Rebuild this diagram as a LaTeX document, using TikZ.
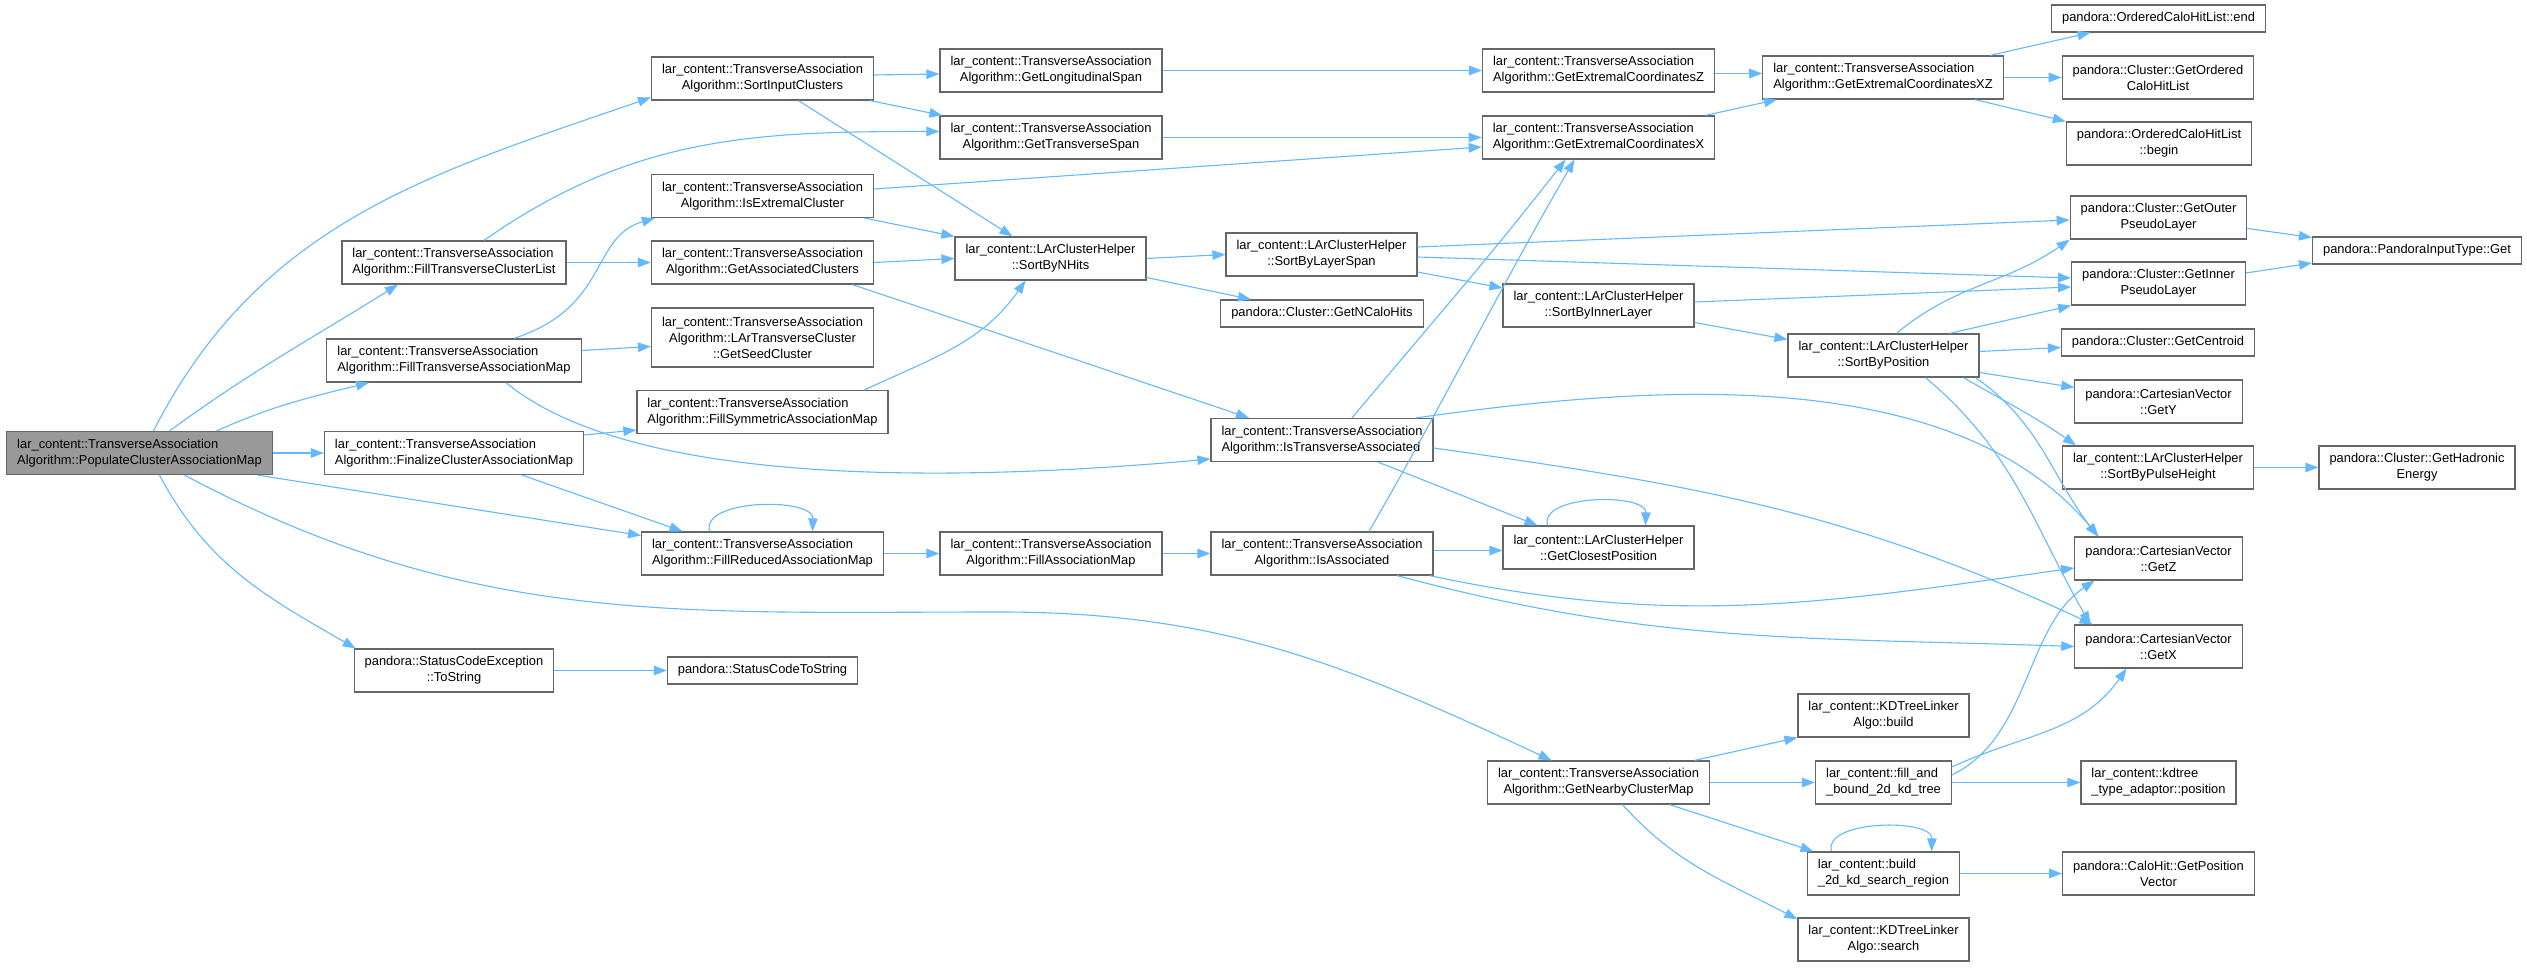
\documentclass[tikz,border=0pt]{standalone}
\usepackage{fontspec}
\setmainfont{Liberation Sans}
\usetikzlibrary{arrows.meta}

\definecolor{callblue}{HTML}{63B8FF}
\definecolor{boxgray}{HTML}{666666}
\definecolor{rootgray}{HTML}{999999}

\newcommand{\tassoc}{lar\_content::TransverseAssociation}
\newcommand{\clhelper}{lar\_content::LArClusterHelper}

\tikzset{
  fn/.style={draw=boxgray, line width=1.2pt, fill=white, inner xsep=10.5pt, inner ysep=0pt,
    minimum height=43pt, align=center, font=\fontsize{12.9}{16}\selectfont},
  fnl/.style={fn, align=left},
  one/.style={minimum height=27pt},
  three/.style={minimum height=59pt},
  root/.style={fill=rootgray},
  call/.style={draw=callblue, line width=1.1pt, -{Triangle[length=13pt,width=9.5pt,fill=callblue]}},
  calls/.style={every edge/.style={call}}
}

\begin{document}
\begin{tikzpicture}[x=1pt,y=1pt]
\useasboundingbox (0,0) rectangle (2527,967);

% first column
\node[fnl,root] (populate) at (139.5,514) {\tassoc\\Algorithm::PopulateClusterAssociationMap};

% second column
\node[fnl] (filllist) at (454,704.5) {\tassoc\\Algorithm::FillTransverseClusterList};
\node[fnl] (fillmap) at (454,606.5) {\tassoc\\Algorithm::FillTransverseAssociationMap};
\node[fnl] (finalize) at (454,514) {\tassoc\\Algorithm::FinalizeClusterAssociationMap};
\node[fn] (exctostring) at (454,296.5) {pandora::StatusCodeException\\::ToString};

% third column
\node[fn] (sortinput) at (762.5,888.5) {\tassoc\\Algorithm::SortInputClusters};
\node[fn] (isextremal) at (762.5,771) {\tassoc\\Algorithm::IsExtremalCluster};
\node[fn] (getassoc) at (762.5,704.5) {\tassoc\\Algorithm::GetAssociatedClusters};
\node[fn,three] (getseed) at (762.5,629.5) {\tassoc\\Algorithm::LArTransverseCluster\\::GetSeedCluster};
\node[fnl] (fillsym) at (762.5,555) {\tassoc\\Algorithm::FillSymmetricAssociationMap};
\node[fnl] (fillreduced) at (762.5,413.5) {\tassoc\\Algorithm::FillReducedAssociationMap};
\node[fn,one] (codetostring) at (762.5,296.5) {pandora::StatusCodeToString};

% fourth column
\node[fn] (longspan) at (1051,896.5) {\tassoc\\Algorithm::GetLongitudinalSpan};
\node[fn] (transspan) at (1051,829.5) {\tassoc\\Algorithm::GetTransverseSpan};
\node[fn] (bynhits) at (1050.5,708.5) {\clhelper\\::SortByNHits};
\node[fn] (fillassoc) at (1051,413.5) {\tassoc\\Algorithm::FillAssociationMap};

% fifth column
\node[fn] (bylayerspan) at (1321.5,712.5) {\clhelper\\::SortByLayerSpan};
\node[fn,one] (ncalohits) at (1322,653.5) {pandora::Cluster::GetNCaloHits};
\node[fnl] (istrans) at (1322,527) {\tassoc\\Algorithm::IsTransverseAssociated};
\node[fn] (isassoc) at (1322,413.5) {\tassoc\\Algorithm::IsAssociated};

% sixth column
\node[fnl] (extremz) at (1598.5,896.5) {\tassoc\\Algorithm::GetExtremalCoordinatesZ};
\node[fnl] (extremx) at (1598.5,829.5) {\tassoc\\Algorithm::GetExtremalCoordinatesX};
\node[fn] (byinner) at (1598.5,661.5) {\clhelper\\::SortByInnerLayer};
\node[fn] (closest) at (1598.5,419.5) {\clhelper\\::GetClosestPosition};
\node[fn] (nearby) at (1598.5,184.5) {\tassoc\\Algorithm::GetNearbyClusterMap};

% seventh column
\node[fnl] (extremxz) at (1883,889.5) {\tassoc\\Algorithm::GetExtremalCoordinatesXZ};
\node[fn] (byposition) at (1883.5,611.5) {\clhelper\\::SortByPosition};
\node[fn] (kdbuild) at (1883.5,251.5) {lar\_content::KDTreeLinker\\Algo::build};
\node[fnl] (fillbound) at (1883.5,184.5) {lar\_content::fill\_and\\\_bound\_2d\_kd\_tree};
\node[fnl] (buildregion) at (1883.5,93.5) {lar\_content::build\\\_2d\_kd\_search\_region};
\node[fn] (kdsearch) at (1883.5,27.5) {lar\_content::KDTreeLinker\\Algo::search};

% eighth column
\node[fn,one] (calohitend) at (2158.5,948.5) {pandora::OrderedCaloHitList::end};
\node[fn] (orderedlist) at (2158,889.5) {pandora::Cluster::GetOrdered\\CaloHitList};
\node[fn] (calohitbegin) at (2159,823.5) {pandora::OrderedCaloHitList\\::begin};
\node[fn] (outerlayer) at (2158.5,749.5) {pandora::Cluster::GetOuter\\PseudoLayer};
\node[fn] (innerlayer) at (2158.5,683.5) {pandora::Cluster::GetInner\\PseudoLayer};
\node[fn,one] (centroid) at (2158,624.5) {pandora::Cluster::GetCentroid};
\node[fn] (gety) at (2158.5,565.5) {pandora::CartesianVector\\::GetY};
\node[fn] (bypulse) at (2158,499.5) {\clhelper\\::SortByPulseHeight};
\node[fn] (getz) at (2158.5,408.5) {pandora::CartesianVector\\::GetZ};
\node[fn] (getx) at (2158.5,320.5) {pandora::CartesianVector\\::GetX};
\node[fnl] (adaptor) at (2158.5,184.5) {lar\_content::kdtree\\\_type\_adaptor::position};
\node[fn] (posvector) at (2158.5,93.5) {pandora::CaloHit::GetPosition\\Vector};

% last column
\node[fn,one] (inputtype) at (2417,716.5) {pandora::PandoraInputType::Get};
\node[fn] (hadronic) at (2417,499.5) {pandora::Cluster::GetHadronic\\Energy};

\coordinate (nearbyvia) at (1000,355);

% calls from the root
\path[calls]
  ([xshift=14pt]populate.north) edge[out=63,in=199] ([yshift=-19pt]sortinput.west)
  ([xshift=30pt]populate.north) edge[out=36,in=212] ([xshift=-56pt]filllist.south)
  ([xshift=77pt]populate.north) edge[out=24,in=194] ([xshift=-85pt]fillmap.south)
  (populate.east) edge (finalize.west)
  ([xshift=118pt]populate.south) edge ([yshift=18pt]fillreduced.west)
  ([xshift=20pt]populate.south) edge[out=-62,in=150] ([xshift=2pt]exctostring.north west);
\draw[call] ([xshift=45pt]populate.south) to[out=-28,in=180] (nearbyvia)
  to[out=0,in=155] ([xshift=-47pt]nearby.north);

% second column
\path[calls]
  ([xshift=30pt]filllist.north) edge[out=35,in=180] ([yshift=6pt]transspan.west)
  (filllist.east) edge (getassoc.west)
  ([yshift=10pt]fillmap.east) edge ([yshift=-9pt]getseed.west)
  ([yshift=18pt]finalize.east) edge ([yshift=-18pt]fillsym.west)
  ([xshift=68pt]finalize.south) edge ([xshift=-80pt]fillreduced.north)
  (exctostring.east) edge (codetostring.west);
\draw[call] ([xshift=60pt]fillmap.north) .. controls (610,660) and (590,730) .. ([xshift=4pt]isextremal.south west);
\draw[call] ([xshift=52pt]fillmap.south) .. controls (620,490) and (900,480) .. ([yshift=-19pt]istrans.west);

% third column
\path[calls]
  ([yshift=3.5pt]sortinput.east) edge ([yshift=-3.5pt]longspan.west)
  ([xshift=-4pt]sortinput.south east) edge ([xshift=3pt]transspan.north west)
  ([xshift=36pt]sortinput.south) edge ([xshift=-38pt]bynhits.north)
  ([yshift=7pt]isextremal.east) edge ([yshift=-9.5pt]extremx.west)
  ([xshift=102pt]isextremal.south) edge (bynhits.north west)
  (getassoc.east) edge (bynhits.west)
  ([xshift=90pt]getassoc.south) edge ([xshift=-73pt]istrans.north)
  ([xshift=102pt]fillsym.north) edge[out=25,in=235] ([xshift=-25pt]bynhits.south)
  ([xshift=-53pt]fillreduced.north) edge[out=105,in=88,looseness=0.85] ([xshift=50pt]fillreduced.north)
  (fillreduced.east) edge (fillassoc.west);

% fourth column
\path[calls]
  (longspan.east) edge (extremz.west)
  (transspan.east) edge (extremx.west)
  (bynhits.east) edge (bylayerspan.west)
  ([yshift=-19pt]bynhits.east) edge ([xshift=-71pt]ncalohits.north)
  (fillassoc.east) edge (isassoc.west);

% fifth column
\path[calls]
  ([yshift=7.5pt]bylayerspan.east) edge ([yshift=-2.5pt]outerlayer.west)
  ([yshift=-2.5pt]bylayerspan.east) edge ([yshift=5.5pt]innerlayer.west)
  ([yshift=-17.5pt]bylayerspan.east) edge ([yshift=17.5pt]byinner.west)
  ([xshift=30pt]istrans.north) edge[out=50,in=232] ([xshift=-33pt]extremx.south)
  ([xshift=56pt]istrans.south) edge ([xshift=-61pt]closest.north)
  ([xshift=94pt]istrans.north) edge[out=8,in=130,looseness=0.85] ([xshift=-60pt]getz.north)
  ([yshift=-8pt]istrans.east) edge[out=-8,in=155] ([xshift=-66pt]getx.north)
  ([yshift=3pt]isassoc.east) edge ([yshift=-3pt]closest.west)
  ([xshift=-4pt]isassoc.south east) edge[out=-12,in=188] ([yshift=-9.5pt]getz.west)
  ([xshift=75pt]isassoc.south) edge[out=-15,in=178] (getx.west)
  ([xshift=47pt]isassoc.north) edge[out=60,in=240] ([xshift=-24pt]extremx.south);

% sixth column
\path[calls]
  ([yshift=-3pt]extremz.east) edge ([yshift=4pt]extremxz.west)
  ([xshift=107pt]extremx.north) edge ([xshift=-106pt]extremxz.south)
  ([yshift=3.5pt]byinner.east) edge ([yshift=-3.5pt]innerlayer.west)
  ([yshift=-17pt]byinner.east) edge ([yshift=16pt]byposition.west)
  ([xshift=-51pt]closest.north) edge[out=105,in=88,looseness=0.85] ([xshift=47pt]closest.north)
  ([xshift=96pt]nearby.north) edge (kdbuild.south west)
  (nearby.east) edge (fillbound.west)
  ([xshift=71pt]nearby.south) edge ([xshift=-70pt]buildregion.north)
  ([xshift=24pt]nearby.south) edge[out=-48,in=152] ([yshift=-2pt]kdsearch.north west);

% seventh column
\path[calls]
  ([xshift=107pt]extremxz.north) edge ([xshift=-68pt]calohitend.south)
  (extremxz.east) edge (orderedlist.west)
  ([xshift=92pt]extremxz.south) edge (calohitbegin.north west)
  ([xshift=13pt]byposition.north) edge[out=40,in=215] (outerlayer.south west)
  ([xshift=66pt]byposition.north) edge (innerlayer.south west)
  ([yshift=4pt]byposition.east) edge ([yshift=-5pt]centroid.west)
  ([yshift=-17pt]byposition.east) edge ([yshift=14pt]gety.west)
  ([xshift=80pt]byposition.south) edge[out=-30,in=145] ([xshift=-82pt]bypulse.north)
  ([xshift=92pt]byposition.south) edge[out=-35,in=127] ([xshift=-61pt]getz.north)
  ([xshift=42pt]byposition.south) edge[out=-40,in=120] ([xshift=-68pt]getx.north)
  ([yshift=15.5pt]fillbound.east) edge[out=25,in=235] ([xshift=-32pt]getx.south)
  (fillbound.east) edge (adaptor.west)
  ([xshift=-52pt]buildregion.north) edge[out=105,in=88,looseness=0.85] ([xshift=48pt]buildregion.north)
  (buildregion.east) edge (posvector.west);
\draw[call] ([yshift=7.5pt]fillbound.east) .. controls (2030,230) and (2025,340) .. ([xshift=-64pt]getz.south);

% eighth column
\path[calls]
  ([yshift=-11pt]outerlayer.east) edge ([yshift=13pt]inputtype.west)
  ([yshift=10.5pt]innerlayer.east) edge ([yshift=-12.5pt]inputtype.west)
  (bypulse.east) edge (hadronic.west);
\end{tikzpicture}
\end{document}
